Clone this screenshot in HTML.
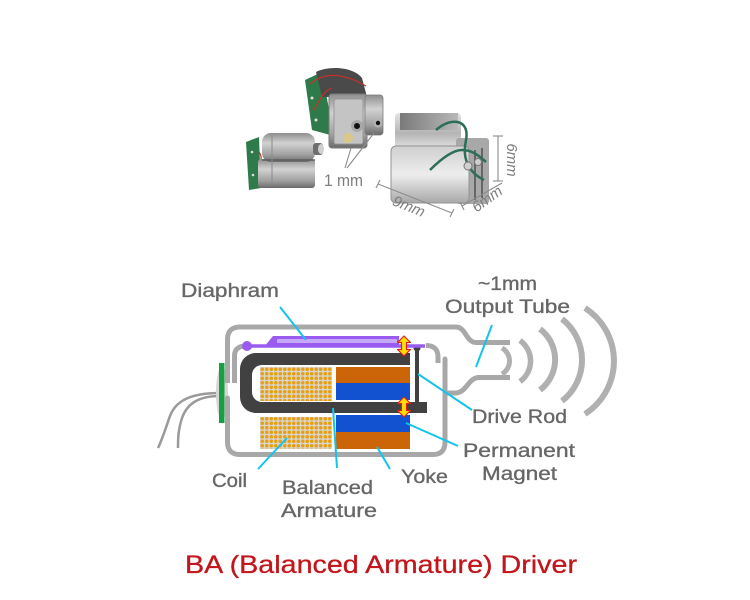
<!DOCTYPE html>
<html>
<head>
<meta charset="utf-8">
<style>
html,body{margin:0;padding:0;background:#fff;}
svg{display:block;}
.lbl{font-family:"Liberation Sans",sans-serif;font-size:19.5px;fill:#676767;stroke:#676767;stroke-width:0.35px;}
.ph{font-family:"Liberation Sans",sans-serif;fill:#7e7e7e;}
</style>
</head>
<body>
<svg width="750" height="600" viewBox="0 0 750 600" xmlns="http://www.w3.org/2000/svg">
<defs>
  <linearGradient id="metal" x1="0" y1="0" x2="0" y2="1">
    <stop offset="0" stop-color="#e4e4e4"/>
    <stop offset="0.45" stop-color="#b4b4b4"/>
    <stop offset="0.7" stop-color="#d6d6d6"/>
    <stop offset="1" stop-color="#7a7a7a"/>
  </linearGradient>
  <linearGradient id="metalD" x1="0" y1="0" x2="0" y2="1">
    <stop offset="0" stop-color="#8e8e8e"/>
    <stop offset="0.35" stop-color="#d2d2d2"/>
    <stop offset="0.75" stop-color="#a0a0a0"/>
    <stop offset="1" stop-color="#6a6a6a"/>
  </linearGradient>
  <linearGradient id="metal2" x1="0" y1="0" x2="0" y2="1">
    <stop offset="0" stop-color="#cfcfcf"/>
    <stop offset="0.5" stop-color="#ededed"/>
    <stop offset="1" stop-color="#a8a8a8"/>
  </linearGradient>
  <linearGradient id="topface" x1="0" y1="0" x2="1" y2="0">
    <stop offset="0" stop-color="#7a7a7a"/>
    <stop offset="1" stop-color="#b8b8b8"/>
  </linearGradient>
  <pattern id="coil" width="4.5" height="4.5" patternUnits="userSpaceOnUse" x="260" y="367">
    <rect width="4.5" height="4.5" fill="#d9d4cc"/>
    <circle cx="2.25" cy="2.25" r="1.75" fill="#e6a010"/>
  </pattern>
</defs>

<!-- ============ PHOTO (approximation) ============ -->
<!-- left driver -->
<polygon points="246,142 259,137 261,188 249,190" fill="#2f7a4a"/>
<circle cx="252" cy="152" r="1.3" fill="#ddd"/>
<circle cx="253" cy="175" r="1.3" fill="#ddd"/>
<path d="M259,152 C264,158 258,166 264,172" stroke="#c0302a" stroke-width="1.2" fill="none"/>
<rect x="258" y="159" width="57" height="29" rx="3" fill="url(#metalD)"/>
<rect x="262" y="133" width="53" height="29" rx="9" fill="url(#metalD)"/>
<line x1="262" y1="160" x2="315" y2="160" stroke="#5e5e5e" stroke-width="1.5"/>
<line x1="272" y1="135" x2="272" y2="186" stroke="#8a8a8a" stroke-width="1"/>
<rect x="313" y="143" width="10" height="12" rx="3" fill="#6e6e6e"/>
<ellipse cx="321" cy="149" rx="3" ry="5" fill="#d0d0d0"/>

<!-- middle driver -->
<polygon points="305,80 322,72 334,136 312,130" fill="#2f7a4a"/>
<circle cx="312" cy="98" r="1.5" fill="#e0e0e0"/>
<circle cx="316" cy="120" r="1.5" fill="#e0e0e0"/>
<path d="M316,72 C328,66 352,66 362,78 L367,97 L322,97 Z" fill="#4a4a4a"/>
<path d="M310,84 C325,71 345,74 366,86" stroke="#c8302a" stroke-width="1.2" fill="none"/>
<path d="M314,110 C320,100 322,92 332,88" stroke="#c8302a" stroke-width="1.2" fill="none"/>
<rect x="329" y="94" width="38" height="54" rx="3" fill="url(#metalD)" stroke="#7a7a7a" stroke-width="1"/>
<rect x="334" y="99" width="29" height="45" rx="2" fill="#c4c4c4" stroke="#909090" stroke-width="0.8"/>
<circle cx="357" cy="126" r="6" fill="#a8a8a8"/>
<circle cx="357" cy="126" r="3" fill="#111"/>
<circle cx="348" cy="138" r="5" fill="#d9c88a"/>
<rect x="365" y="95" width="18" height="40" rx="3" fill="url(#metalD)" stroke="#7a7a7a" stroke-width="0.8"/>
<circle cx="378" cy="123" r="4.5" fill="#b4b4b4"/>
<circle cx="378" cy="123" r="2.2" fill="#111"/>

<!-- right driver -->
<rect x="395" y="113" width="66" height="45" rx="4" fill="url(#metal)"/>
<rect x="400" y="113" width="58" height="17" fill="url(#topface)"/>
<rect x="456" y="138" width="33" height="66" rx="3" fill="#a8a8a8"/>
<line x1="467" y1="150" x2="467" y2="202" stroke="#666" stroke-width="2"/>
<line x1="475" y1="150" x2="475" y2="200" stroke="#666" stroke-width="2"/>
<line x1="482" y1="148" x2="482" y2="198" stroke="#666" stroke-width="2"/>
<rect x="391" y="146" width="78" height="57" rx="5" fill="url(#metal2)" stroke="#949494" stroke-width="1"/>
<path d="M436,130 C452,116 470,120 466,140 C462,158 468,172 484,180" stroke="#2d6e5a" stroke-width="2.5" fill="none"/>
<path d="M430,170 C440,160 452,150 462,150 C472,150 478,155 486,162" stroke="#2d6e5a" stroke-width="2.5" fill="none"/>
<circle cx="468" cy="166" r="4" fill="#cfcfcf" stroke="#777" stroke-width="1"/>
<circle cx="478" cy="162" r="3.5" fill="#cfcfcf" stroke="#777" stroke-width="1"/>

<!-- dimension lines -->
<g stroke="#8c8c8c" stroke-width="1.1" fill="none">
  <path d="M345,168 L351,148"/>
  <path d="M347,168 L374,133"/>
  <path d="M378,184 L452,213"/>
  <path d="M376,188 L380,180"/>
  <path d="M450,217 L454,209"/>
  <path d="M462,206 L502,183"/>
  <path d="M460,202 L464,210"/>
  <path d="M498,136 L498,181"/>
  <path d="M493,136 L503,136"/>
  <path d="M493,181 L503,181"/>
</g>
<text class="ph" x="324" y="186" font-size="17" textLength="39" lengthAdjust="spacingAndGlyphs">1 mm</text>
<text class="ph" x="0" y="0" font-size="15" font-style="italic" text-anchor="middle" transform="translate(407,211) rotate(22)">9mm</text>
<text class="ph" x="0" y="0" font-size="15" font-style="italic" text-anchor="middle" transform="translate(490,203) rotate(-36)">6mm</text>
<text class="ph" x="0" y="0" font-size="15" font-style="italic" text-anchor="middle" transform="translate(507,160) rotate(90)">6mm</text>

<!-- ============ DIAGRAM ============ -->
<!-- wires -->
<g stroke="#9a9a9a" stroke-width="2.5" fill="none">
  <path d="M220,393 C192,393 176,400 170,416 C165,430 162,440 158,448"/>
  <path d="M220,396 C198,396 187,404 182,418 C178,430 178,440 178,448"/>
</g>
<ellipse cx="222" cy="393" rx="6" ry="27" fill="#d6d6d6"/>
<rect x="219" y="363" width="5.5" height="60" fill="#17a040"/>

<!-- case -->
<g stroke="#a8a8a8" stroke-width="5" fill="none">
  <path d="M510,342.5 H476 C466,342.5 466,327 456,327 H240 Q227.5,327 227.5,339.5 V383"/>
  <path d="M227.5,398 V442 Q227.5,454.5 240,454.5 H433 Q445,454.5 445,442 V359" stroke-linecap="round"/>
  <path d="M510,377.5 H479 C468,377.5 467,393 455,393 H446"/>
  <path d="M246,346 Q234.5,346 234.5,356 V383"/>
  <path d="M426,345.5 Q438,345.5 438,357 V363"/>
</g>

<!-- sound waves -->
<g stroke="#b0b0b0" fill="none">
  <path d="M502,348 A15,15 0 0 1 502,374" stroke-width="5"/>
  <path d="M520,340.5 A25.2,25.2 0 0 1 520,381.5" stroke-width="5.5"/>
  <path d="M540,329 A38.3,38.3 0 0 1 540,390" stroke-width="6"/>
  <path d="M562,319 A52,52 0 0 1 562,401" stroke-width="6"/>
  <path d="M585,308 A63,63 0 0 1 585,414" stroke-width="6"/>
</g>

<!-- coils -->
<rect x="260" y="367" width="72" height="34" fill="url(#coil)"/>
<rect x="260" y="417" width="72" height="32" fill="url(#coil)"/>

<!-- magnets / yoke -->
<rect x="336" y="367" width="74" height="16" fill="#cc6408"/>
<rect x="336" y="383" width="74" height="17" fill="#1252d0"/>
<rect x="336" y="415" width="74" height="17" fill="#1252d0"/>
<rect x="336" y="432" width="74" height="17" fill="#cc6408"/>

<!-- armature -->
<path d="M410,353 H256 A16,16 0 0 0 240,369 V397 A16,16 0 0 0 256,413 H427 V402 H262 A10,10 0 0 1 252,392 V375 A10,10 0 0 1 262,365 H410 Z" fill="#414141"/>

<!-- drive rod -->
<rect x="415" y="348" width="4" height="56" fill="#414141"/>
<circle cx="417" cy="348" r="3.5" fill="#414141"/>

<!-- diaphragm -->
<line x1="247" y1="346" x2="425" y2="346" stroke="#9a5cf0" stroke-width="3.5"/>
<polygon points="264,347 273,336 399,336 399,347" fill="#9a5cf0"/>
<rect x="277" y="339" width="120" height="4" fill="#c6a8f8"/>
<circle cx="247" cy="346" r="5" fill="#9a5cf0"/>

<!-- yellow arrows -->
<g fill="#ffe000" stroke="#e02020" stroke-width="1.2" stroke-linejoin="round">
  <path d="M404,336 L410.5,342.5 L406.5,342.5 L406.5,349.5 L410.5,349.5 L404,356 L397.5,349.5 L401.5,349.5 L401.5,342.5 L397.5,342.5 Z"/>
  <path d="M404,397 L410.5,403.5 L406.5,403.5 L406.5,410.5 L410.5,410.5 L404,417 L397.5,410.5 L401.5,410.5 L401.5,403.5 L397.5,403.5 Z"/>
</g>

<!-- leader lines -->
<g stroke="#12c4ec" stroke-width="2" fill="none">
  <path d="M280,307 L306,340"/>
  <path d="M492,325 L476,367"/>
  <path d="M418,374 L472,410"/>
  <path d="M406,423 L458,446"/>
  <path d="M287,438 L258,469"/>
  <path d="M333,408 L337,468"/>
  <path d="M377,447 L390,469"/>
</g>

<!-- labels -->
<text class="lbl" x="181" y="297" textLength="98" lengthAdjust="spacingAndGlyphs">Diaphram</text>
<text class="lbl" x="478" y="290" textLength="59" lengthAdjust="spacingAndGlyphs">~1mm</text>
<text class="lbl" x="445" y="313" textLength="125" lengthAdjust="spacingAndGlyphs">Output Tube</text>
<text class="lbl" x="472" y="423" textLength="95" lengthAdjust="spacingAndGlyphs">Drive Rod</text>
<text class="lbl" x="463" y="457" textLength="112" lengthAdjust="spacingAndGlyphs">Permanent</text>
<text class="lbl" x="482" y="480" textLength="75" lengthAdjust="spacingAndGlyphs">Magnet</text>
<text class="lbl" x="212" y="487" textLength="35" lengthAdjust="spacingAndGlyphs">Coil</text>
<text class="lbl" x="282" y="494" textLength="91" lengthAdjust="spacingAndGlyphs">Balanced</text>
<text class="lbl" x="281" y="517" textLength="96" lengthAdjust="spacingAndGlyphs">Armature</text>
<text class="lbl" x="401" y="483" textLength="47" lengthAdjust="spacingAndGlyphs">Yoke</text>

<!-- title -->
<text x="185" y="573" font-family="Liberation Sans, sans-serif" font-size="25" fill="#c3161c" stroke="#c3161c" stroke-width="0.3" textLength="392" lengthAdjust="spacingAndGlyphs">BA (Balanced Armature) Driver</text>
</svg>
</body>
</html>
